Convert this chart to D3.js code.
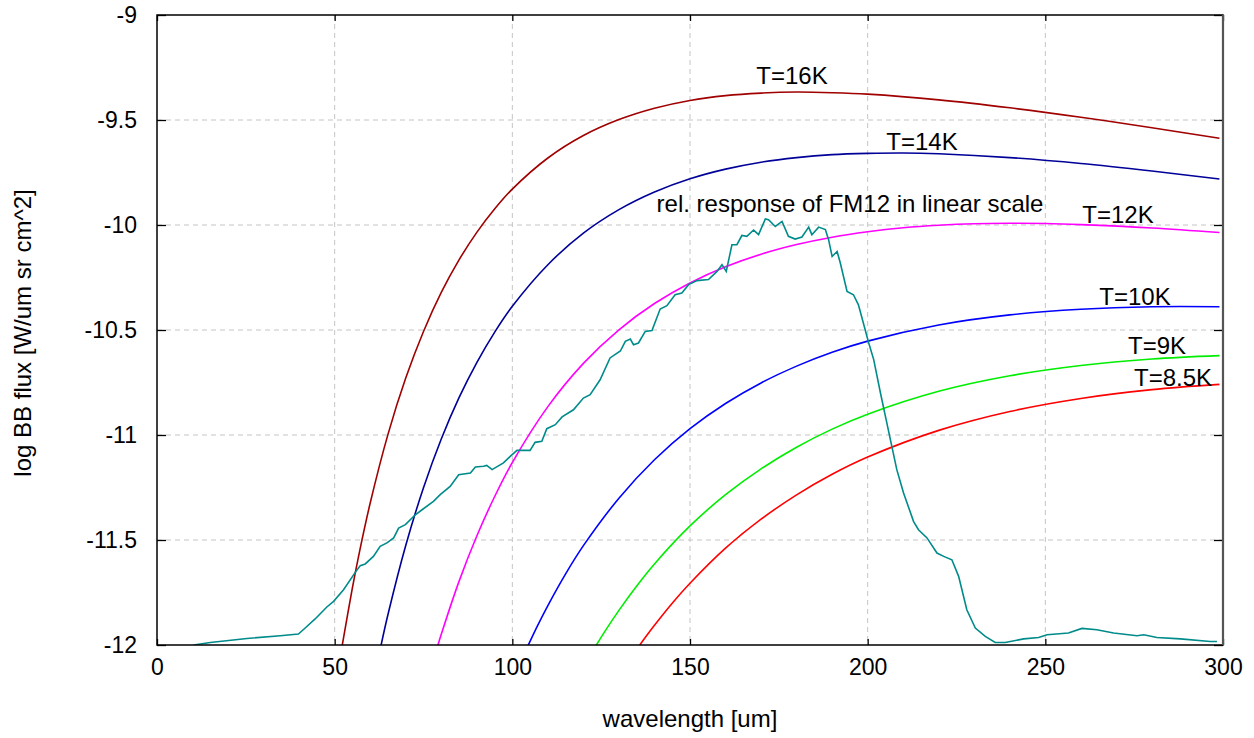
<html>
<head>
  <meta charset="utf-8">
  <script src="https://d3js.org/d3.v7.min.js"></script>
  <style>
    body { margin: 0; background: #fff; }
    text { font-family: "Liberation Sans", Arial, sans-serif; fill: #000; }
    .grid line { stroke: #c4c4c4; stroke-width: 1; stroke-dasharray: 5,4; }
  </style>
</head>
<body>
  <svg id="plot" width="1254" height="738"></svg>
  <script>
    // tick values
    const xTicks = [0, 50, 100, 150, 200, 250, 300];
    const yTicks = [-12, -11.5, -11, -10.5, -10, -9.5, -9];

    // black body curves, log flux
    const wl16 = [52, 55, 57, 60, 65, 70, 75, 80, 85, 90, 95, 100, 110, 120, 130, 140, 150, 160, 170, 180, 190, 200, 220, 240, 260, 280, 299];
    const bb16 = [-12.014, -11.727, -11.555, -11.324, -10.997, -10.729, -10.507, -10.321, -10.166, -10.035, -9.924, -9.829, -9.681, -9.574, -9.498, -9.444, -9.407, -9.384, -9.372, -9.367, -9.370, -9.377, -9.404, -9.442, -9.487, -9.537, -9.587];

    const wl14 = [63, 65, 70, 75, 80, 85, 90, 95, 100, 110, 120, 130, 140, 150, 160, 170, 180, 190, 200, 210, 220, 240, 260, 280, 299];
    const bb14 = [-12.006, -11.855, -11.526, -11.251, -11.019, -10.822, -10.655, -10.511, -10.387, -10.189, -10.039, -9.927, -9.843, -9.780, -9.734, -9.701, -9.679, -9.665, -9.659, -9.657, -9.661, -9.679, -9.707, -9.743, -9.781];

    const wl12 = [79, 80, 85, 90, 95, 100, 110, 120, 130, 140, 150, 160, 170, 180, 190, 200, 210, 220, 230, 240, 250, 260, 280, 299];
    const bb12 = [-12.004, -11.949, -11.697, -11.481, -11.294, -11.131, -10.865, -10.659, -10.499, -10.374, -10.276, -10.199, -10.139, -10.093, -10.058, -10.032, -10.013, -10.001, -9.994, -9.992, -9.993, -9.998, -10.014, -10.036];

    const wl10 = [104, 107, 110, 115, 120, 130, 140, 150, 160, 170, 180, 190, 200, 220, 240, 260, 280, 299];
    const bb10 = [-12.018, -11.911, -11.812, -11.661, -11.527, -11.301, -11.118, -10.970, -10.850, -10.752, -10.672, -10.606, -10.553, -10.476, -10.428, -10.401, -10.389, -10.389];

    const wl9 = [123.5, 126, 130, 135, 140, 150, 160, 170, 180, 190, 200, 220, 240, 260, 280, 299];
    const bb9 = [-12.004, -11.936, -11.835, -11.719, -11.614, -11.433, -11.284, -11.161, -11.058, -10.972, -10.901, -10.792, -10.718, -10.669, -10.638, -10.622];

    const wl85 = [135.5, 137.5, 140, 145, 150, 160, 170, 180, 190, 200, 220, 240, 260, 280, 299];
    const bb85 = [-12.009, -11.962, -11.906, -11.801, -11.706, -11.539, -11.401, -11.285, -11.187, -11.105, -10.978, -10.888, -10.826, -10.784, -10.759];

    // relative response of FM12 (plotted in the same frame)
    const respWl = [10.3, 15, 25.3, 34.7, 39.8, 41.7, 44.5, 47.8, 49.7, 52.5, 55.8, 57.2, 58.6, 60.9, 62.8, 64.7, 66.6, 68.0, 69.9, 72.7, 74.6, 77.8, 79.7, 82.5, 84.9, 88.2, 89.6, 91.9, 92.8, 94.3, 97.5, 99.4, 101.3, 105.0, 106.4, 108.3, 109.7, 112.1, 114.0, 117.2, 120.0, 121.9, 124.7, 127.5, 130.4, 131.8, 133.2, 134.1, 135.5, 137.4, 139.3, 141.6, 143.5, 145.8, 147.7, 149.6, 152.0, 155.2, 157.6, 159.0, 160.2, 161.8, 163.2, 164.6, 166.0, 167.9, 169.3, 171.2, 172.1, 174.0, 175.9, 177.7, 179.6, 181.5, 183.4, 184.3, 186.2, 188.1, 189.0, 190.0, 191.4, 192.3, 194.2, 196.0, 197.4, 200.3, 201.7, 203.6, 205.0, 206.8, 208.2, 210.1, 212.9, 214.3, 216.7, 219.5, 221.4, 223.7, 225.6, 227.9, 230.3, 233.1, 235.9, 238.7, 243.9, 248.1, 250.5, 256.5, 260.3, 264.5, 269.2, 275.8, 277.7, 281.4, 288.0, 296.4, 298.3];
    const respVal = [-12.0, -11.988, -11.969, -11.956, -11.948, -11.919, -11.876, -11.819, -11.792, -11.737, -11.654, -11.622, -11.614, -11.578, -11.530, -11.514, -11.490, -11.443, -11.427, -11.380, -11.356, -11.316, -11.284, -11.245, -11.189, -11.181, -11.152, -11.149, -11.145, -11.165, -11.133, -11.102, -11.073, -11.073, -11.035, -11.030, -10.970, -10.951, -10.914, -10.880, -10.824, -10.808, -10.737, -10.633, -10.600, -10.554, -10.543, -10.570, -10.562, -10.507, -10.502, -10.400, -10.384, -10.332, -10.324, -10.284, -10.265, -10.260, -10.221, -10.189, -10.221, -10.094, -10.094, -10.050, -10.054, -10.024, -10.046, -9.971, -9.975, -10.007, -9.983, -10.054, -10.067, -10.057, -10.010, -10.046, -10.010, -10.022, -10.070, -10.150, -10.126, -10.181, -10.316, -10.332, -10.380, -10.562, -10.641, -10.800, -10.911, -11.054, -11.165, -11.276, -11.411, -11.451, -11.490, -11.562, -11.578, -11.594, -11.673, -11.832, -11.919, -11.959, -11.988, -11.988, -11.971, -11.964, -11.951, -11.943, -11.921, -11.927, -11.943, -11.956, -11.951, -11.964, -11.971, -11.983, -11.983];

    const curves = [
      { name: "T=16K",  wl: wl16, val: bb16, color: "#a00000", lx: 792,  ly: 84 },
      { name: "T=14K",  wl: wl14, val: bb14, color: "#000099", lx: 922,  ly: 150 },
      { name: "T=12K",  wl: wl12, val: bb12, color: "#ff00ff", lx: 1118, ly: 223 },
      { name: "T=10K",  wl: wl10, val: bb10, color: "#0000ff", lx: 1135, ly: 305 },
      { name: "T=9K",   wl: wl9,  val: bb9,  color: "#00ee00", lx: 1157, ly: 354 },
      { name: "T=8.5K", wl: wl85, val: bb85, color: "#ff0000", lx: 1173, ly: 386 }
    ];

    const plot = d3.select("svg#plot");
    const fLeft = 157, fRight = 1223, fTop = 15, fBottom = 645;

    const xScale = d3.scaleLinear().domain([0, 300]).range([fLeft, fRight]);
    const yScale = d3.scaleLinear().domain([-12, -9]).range([fBottom, fTop]);

    // gridlines
    const grid = plot.append("g").attr("class", "grid");
    grid.selectAll("line.gx").data(xTicks.slice(1, -1)).join("line").attr("class", "gx")
        .attr("x1", d => xScale(d)).attr("x2", d => xScale(d))
        .attr("y1", fTop).attr("y2", fBottom);
    grid.selectAll("line.gy").data(yTicks.slice(1, -1)).join("line").attr("class", "gy")
        .attr("x1", fLeft).attr("x2", fRight)
        .attr("y1", d => yScale(d)).attr("y2", d => yScale(d));

    // axes with inward ticks on all four sides (plain hyphen for minus)
    const plain = d => String(d);
    const xAxisB = d3.axisBottom(xScale).tickValues(xTicks).tickSizeInner(-6).tickSizeOuter(0).tickPadding(14).tickFormat(plain);
    const xAxisT = d3.axisTop(xScale).tickValues(xTicks).tickSizeInner(-6).tickSizeOuter(0).tickFormat("");
    const yAxisL = d3.axisLeft(yScale).tickValues(yTicks).tickSizeInner(-9).tickSizeOuter(0).tickPadding(20).tickFormat(plain);
    const yAxisR = d3.axisRight(yScale).tickValues(yTicks).tickSizeInner(-9).tickSizeOuter(0).tickFormat("");

    const axes = [
      plot.append("g").attr("transform", "translate(0," + fBottom + ")").call(xAxisB),
      plot.append("g").attr("transform", "translate(0," + fTop + ")").call(xAxisT),
      plot.append("g").attr("transform", "translate(" + fLeft + ",0)").call(yAxisL),
      plot.append("g").attr("transform", "translate(" + fRight + ",0)").call(yAxisR)
    ];
    axes.forEach(a => {
      a.select(".domain").remove();
      a.selectAll(".tick line").attr("stroke", "#000").attr("stroke-width", 1.3);
      a.selectAll("text").attr("font-size", 23).attr("fill", "#000")
       .style("font-family", "'Liberation Sans', Arial, sans-serif");
    });
    axes[0].selectAll("text").attr("dy", "0.71em");

    // clip curves to the frame
    plot.append("clipPath").attr("id", "frame")
        .append("rect").attr("x", fLeft).attr("y", fTop)
        .attr("width", fRight - fLeft).attr("height", fBottom - fTop);
    const chartArea = plot.append("g").attr("clip-path", "url(#frame)");

    const bbLine = d3.line().x(d => xScale(d[0])).y(d => yScale(d[1])).curve(d3.curveCatmullRom);
    curves.forEach(c => {
      chartArea.append("path")
        .datum(c.wl.map((w, i) => [w, c.val[i]]))
        .attr("fill", "none").attr("stroke", c.color).attr("stroke-width", 1.6)
        .attr("d", bbLine);
    });

    const respLine = d3.line().x(d => xScale(d[0])).y(d => yScale(d[1]));
    chartArea.append("path")
      .datum(respWl.map((w, i) => [w, respVal[i]]))
      .attr("fill", "none").attr("stroke", "#008b8b").attr("stroke-width", 1.6)
      .attr("d", respLine);

    // frame
    plot.append("rect").attr("x", fLeft).attr("y", fTop)
        .attr("width", fRight - fLeft).attr("height", fBottom - fTop)
        .attr("fill", "none").attr("stroke", "#000").attr("stroke-width", 1.5);
    plot.append("line").attr("x1", fRight).attr("x2", fRight).attr("y1", fTop).attr("y2", fBottom)
        .attr("stroke", "#555").attr("stroke-width", 2.2);

    // curve labels
    plot.selectAll("text.lab").data(curves).join("text").attr("class", "lab")
        .attr("x", d => d.lx).attr("y", d => d.ly)
        .attr("text-anchor", "middle").attr("font-size", 24)
        .text(d => d.name);
    plot.append("text").attr("x", 850).attr("y", 212)
        .attr("text-anchor", "middle").attr("font-size", 24)
        .text("rel. response of FM12 in linear scale");

    // axis titles
    plot.append("text").attr("x", (fLeft + fRight) / 2).attr("y", 727)
        .attr("text-anchor", "middle").attr("font-size", 24)
        .text("wavelength [um]");
    plot.append("text").attr("transform", "translate(31,333) rotate(-90)")
        .attr("text-anchor", "middle").attr("font-size", 24)
        .text("log BB flux [W/um sr cm^2]");
  </script>
</body>
</html>
